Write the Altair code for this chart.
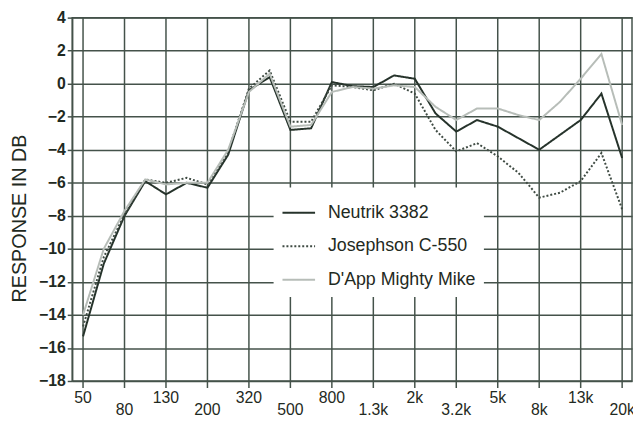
import altair as alt
import pandas as pd

freqs = ["50", "63", "80", "100", "125", "160", "200", "250", "315", "400", "500",
         "630", "800", "1k", "1.25k", "1.6k", "2k", "2.5k", "3.15k", "4k", "5k",
         "6.3k", "8k", "10k", "12.5k", "16k", "20k"]
neutrik = [-15.3, -10.9, -8.0, -5.9, -6.7, -6.0, -6.3, -4.3, -0.4, 0.4, -2.8,
           -2.7, 0.1, -0.15, -0.2, 0.5, 0.3, -1.8, -2.9, -2.2, -2.6,
           -3.3, -4.0, -3.1, -2.2, -0.6, -4.5]
josephson = [-14.7, -10.5, -7.9, -5.8, -6.0, -5.7, -6.1, -4.1, -0.3, 0.8, -2.3,
             -2.3, -0.1, -0.2, -0.4, 0.0, -0.6, -2.8, -4.1, -3.6, -4.4,
             -5.4, -6.9, -6.6, -5.9, -4.2, -7.6]
dapp = [-14.0, -10.0, -7.7, -5.8, -6.1, -6.0, -6.0, -4.0, -0.5, 0.6, -2.6,
        -2.5, -0.5, -0.2, -0.3, -0.1, -0.2, -1.4, -2.2, -1.5, -1.5,
        -1.9, -2.2, -1.1, 0.3, 1.8, -2.5]
series_names = ["Neutrik 3382", "Josephson C-550", "D'App Mighty Mike"]
series_colors = ["#26332b", "#3f4b43", "#b7bdb8"]
series_dash = [[1, 0], [2, 2], [1, 0]]
tick_labels = ["50", "80", "130", "200", "320", "500", "800", "1.3k", "2k",
               "3.2k", "5k", "8k", "13k", "20k"]
y_ticks = list(range(-18, 5, 2))

rows = []
for name, vals in zip(series_names, [neutrik, josephson, dapp]):
    for i, f in enumerate(freqs):
        rows.append({"idx": i, "freq": f, "series": name, "db": vals[i]})
df = pd.DataFrame(rows)
lab_df = pd.DataFrame({"idx": [2 * k for k in range(len(tick_labels))],
                       "label": tick_labels})

FONT = "Liberation Sans"
GRID = "#44524a"
TXT = "#1f2a22"

xscale = alt.Scale(domain=[-0.524, 26.476], nice=False, zero=False)
yscale = alt.Scale(domain=[-18, 4], nice=False, zero=False)

leg = alt.Legend(orient="none", legendX=204, legendY=172, title=None,
                 fillColor="white", padding=8, symbolType="stroke",
                 symbolSize=1089, symbolStrokeWidth=2, labelFontSize=18,
                 labelFont=FONT, labelOffset=12, rowPadding=7,
                 labelColor=TXT, labelLimit=300)

# vertical grid lines at the labelled frequencies (extend just below the axis)
vgrid = alt.Chart(lab_df).mark_rule(color=GRID, strokeWidth=1.5).encode(
    x=alt.X("idx:Q", scale=xscale, axis=None),
    y=alt.value(0), y2=alt.value(375),
)

lines = alt.Chart(df).mark_line(strokeWidth=2).encode(
    x=alt.X("idx:Q", scale=xscale,
            axis=alt.Axis(values=list(range(27)), labels=False, grid=False,
                          tickSize=7, tickColor=GRID, tickWidth=1.5,
                          domainColor=GRID, domainWidth=1.5,
                          title="FREQUENCY IN HZ", titleFont=FONT,
                          titleFontSize=18, titleFontWeight="normal",
                          titleColor=TXT, titleBaseline="alphabetic",
                          titleX=287, titleY=55, titleAlign="center")),
    y=alt.Y("db:Q", scale=yscale,
            axis=alt.Axis(values=y_ticks, grid=True, gridColor=GRID,
                          gridWidth=1.5, tickSize=5, tickColor=GRID,
                          tickWidth=1.5, domainColor=GRID, domainWidth=1.5,
                          labelFont=FONT, labelFontSize=16,
                          labelFontWeight="bold", labelColor=TXT,
                          labelPadding=2,
                          title="RESPONSE IN DB", titleFont=FONT,
                          titleFontSize=20, titleFontWeight="normal",
                          titleColor=TXT, titleAngle=270,
                          titleBaseline="middle", titleAlign="center",
                          titleX=-53, titleY=203)),
    color=alt.Color("series:N", sort=series_names,
                    scale=alt.Scale(domain=series_names, range=series_colors),
                    legend=leg),
    strokeDash=alt.StrokeDash("series:N", sort=series_names,
                              scale=alt.Scale(domain=series_names, range=series_dash),
                              legend=leg),
    order=alt.Order("idx:Q"),
)

upper = alt.Chart(lab_df).transform_filter("datum.idx % 4 == 0").mark_text(
    font=FONT, fontSize=16, color=TXT, baseline="alphabetic", align="center"
).encode(x=alt.X("idx:Q", scale=xscale, axis=None), y=alt.value(390),
         text="label:N")

lower = alt.Chart(lab_df).transform_filter("datum.idx % 4 == 2").mark_text(
    font=FONT, fontSize=16, color=TXT, baseline="alphabetic", align="center"
).encode(x=alt.X("idx:Q", scale=xscale, axis=None), y=alt.value(402),
         text="label:N")

chart = alt.layer(vgrid, lines, upper, lower).properties(
    width=567, height=368,
    autosize=alt.AutoSizeParams(type="none"),
    padding={"left": 65, "top": 7, "right": 1, "bottom": 56},
    background="white",
).configure_view(stroke=GRID, strokeWidth=1.5)

chart.save("out.html", embed_options={"renderer": "svg", "actions": False})
